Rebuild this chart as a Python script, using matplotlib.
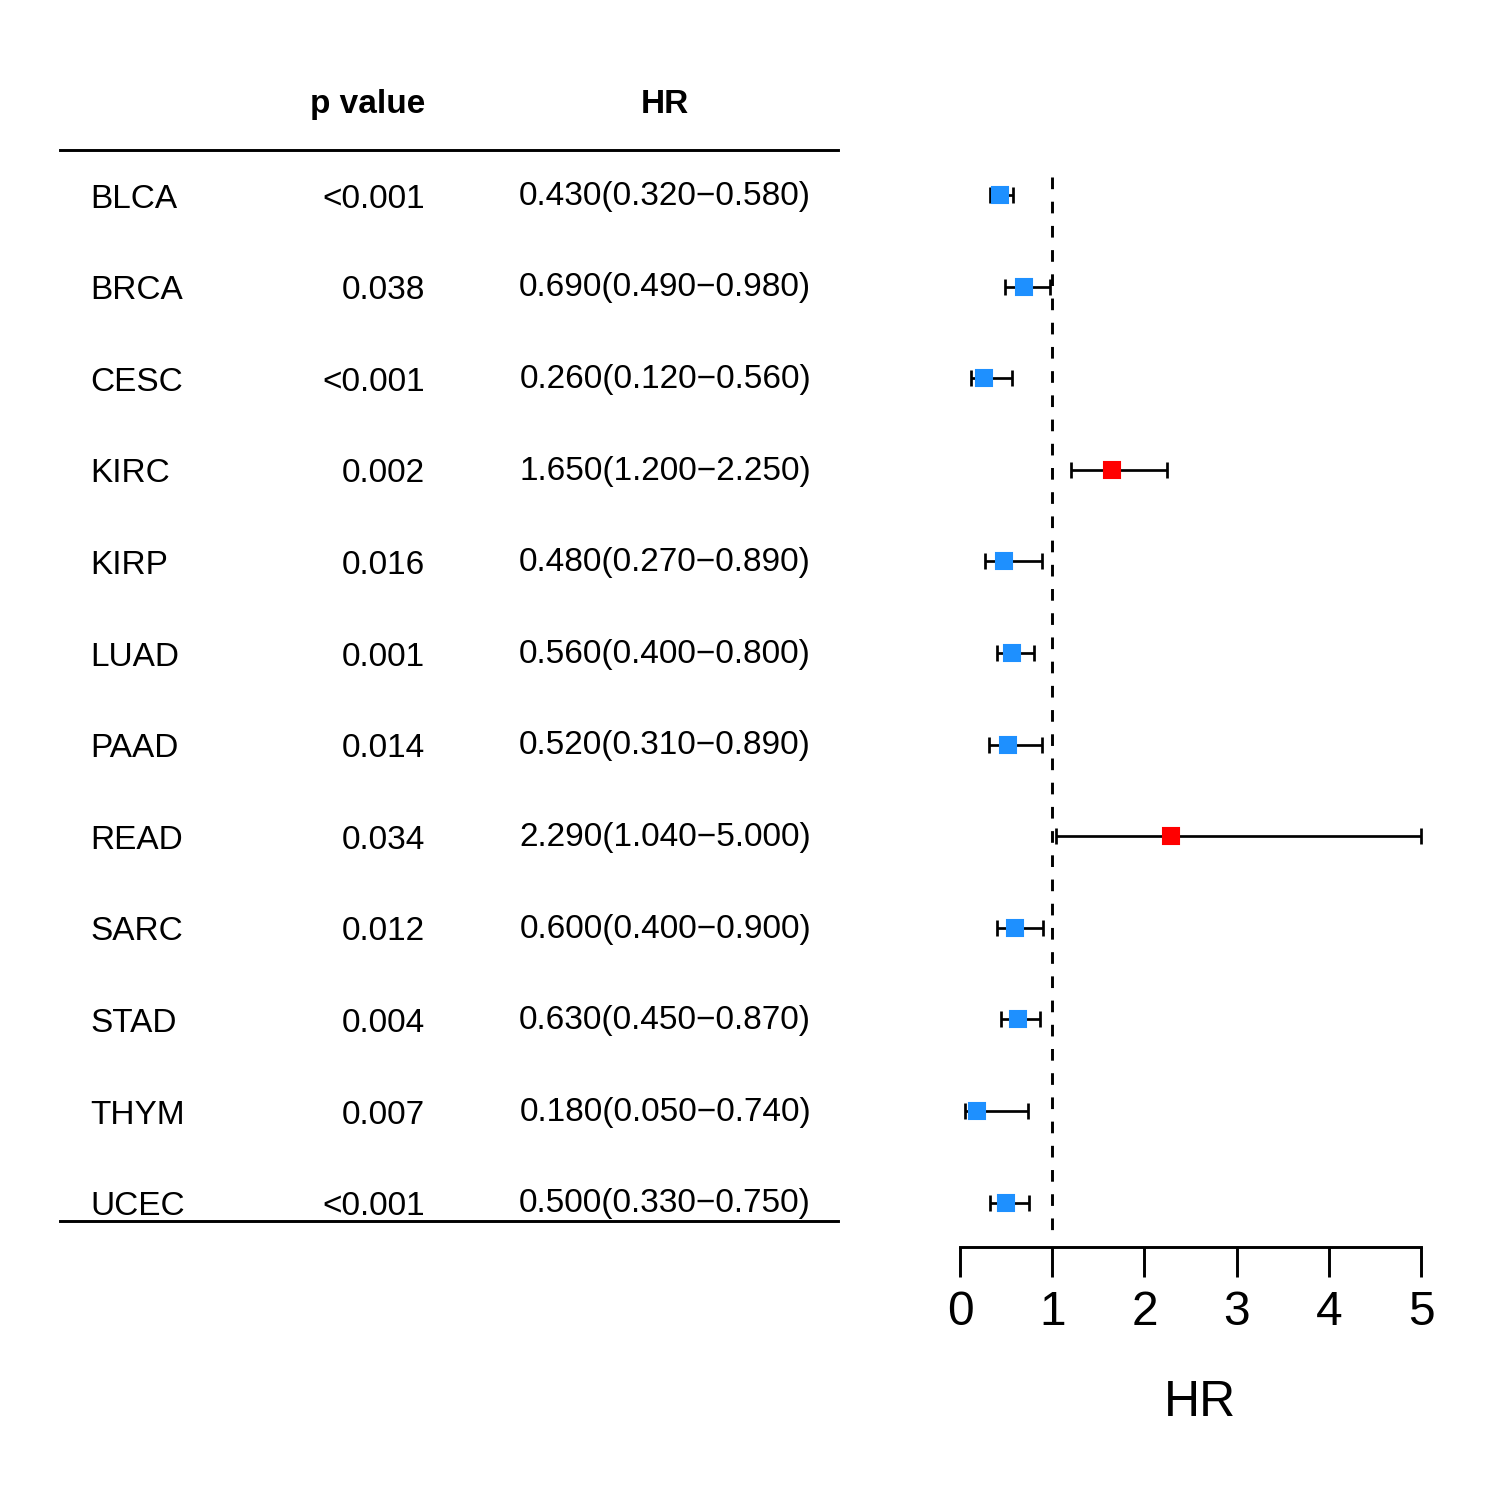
import numpy as np
import matplotlib.pyplot as plt
from matplotlib.transforms import blended_transform_factory

plt.rcParams['font.family'] = ['Liberation Sans', 'DejaVu Sans']

# ============================ DATA ===================================
cancers = ["BLCA", "BRCA", "CESC", "KIRC", "KIRP", "LUAD", "PAAD", "READ", "SARC", "STAD", "THYM", "UCEC"]
p_values = ["<0.001", "0.038", "<0.001", "0.002", "0.016", "0.001", "0.014", "0.034", "0.012", "0.004", "0.007", "<0.001"]
hr = [0.430, 0.690, 0.260, 1.650, 0.480, 0.560, 0.520, 2.290, 0.600, 0.630, 0.180, 0.500]
hr_low = [0.320, 0.490, 0.120, 1.200, 0.270, 0.400, 0.310, 1.040, 0.400, 0.450, 0.050, 0.330]
hr_high = [0.580, 0.980, 0.560, 2.250, 0.890, 0.800, 0.890, 5.000, 0.900, 0.870, 0.740, 0.750]
x_ticks = [0, 1, 2, 3, 4, 5]

hr = np.array(hr)
hr_low = np.array(hr_low)
hr_high = np.array(hr_high)
rows = np.arange(len(cancers))

# ============================ FIGURE ===================================
fig = plt.figure(figsize=(10, 10), dpi=150)
ax = fig.add_axes([0.64, 0.1687, 0.3073, 0.7313])
ax.set_xlim(0, 5)
ax.set_ylim(11.485, -0.491)

# reference line at HR=1 (drawn top -> bottom)
ax.plot([1, 1], [-0.2, 11.41], color='black', lw=1.4, linestyle=(0, (4, 4.3)), zorder=1)

for i in rows:
    col = '#FF0000' if hr[i] > 1 else '#1E90FF'
    ax.errorbar(hr[i], i, xerr=[[hr[i] - hr_low[i]], [hr_high[i] - hr[i]]],
                fmt='none', ecolor='black', elinewidth=1.3, capsize=4, capthick=1.3, clip_on=False)
    ax.plot(hr[i], i, marker='s', markersize=7.5, color=col, linestyle='none', clip_on=False, zorder=3)

for s in ['top', 'right', 'left']:
    ax.spines[s].set_visible(False)
ax.spines['bottom'].set_linewidth(1.4)
ax.set_yticks([])
ax.set_xticks(x_ticks)
ax.set_xticklabels([str(t) for t in x_ticks])
ax.tick_params(axis='x', length=14.5, width=1.4, pad=6, labelsize=23)
ax.set_xlabel("HR", fontsize=24)
ax.xaxis.set_label_coords(0.52, -0.121)

# ============================ TABLE ===================================
tr = blended_transform_factory(fig.transFigure, ax.transData)
fig.text(0.2833, -0.985, "p value", transform=tr, ha='right', va='center', fontsize=16, fontweight='bold')
fig.text(0.4433, -0.985, "HR", transform=tr, ha='center', va='center', fontsize=16, fontweight='bold')

for i in rows:
    fig.text(0.06, i + 0.045, cancers[i], transform=tr, ha='left', va='center', fontsize=16)
    fig.text(0.2833, i + 0.045, p_values[i], transform=tr, ha='right', va='center', fontsize=16)
    hr_txt = f"{hr[i]:.3f}({hr_low[i]:.3f}\u2212{hr_high[i]:.3f})"
    fig.text(0.5407, i + 0.015, hr_txt, transform=tr, ha='right', va='center', fontsize=16)

# top and bottom rules of the table
ax.plot([0.04, 0.5587], [-0.491, -0.491], transform=tr, color='black', lw=1.4, clip_on=False)
ax.plot([0.04, 0.5587], [11.2, 11.2], transform=tr, color='black', lw=1.4, clip_on=False)

plt.savefig("out.png", dpi=150)
plt.close()
